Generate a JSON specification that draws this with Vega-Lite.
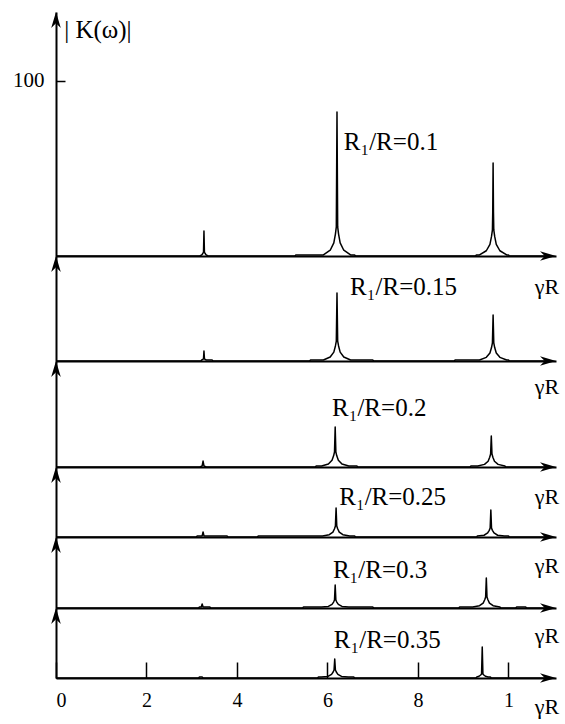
{
  "$schema": "https://vega.github.io/schema/vega-lite/v6.json",
  "background": "white",
  "padding": {"left": 12, "top": 12, "right": 0, "bottom": 0},
  "bounds": "flush",
  "spacing": 0,
  "config": {
    "view": {"stroke": null},
    "axis": {"domainColor": "black", "domainWidth": 2, "grid": false, "labelFont": "Liberation Serif", "labelFontSize": 20, "labelColor": "black", "tickColor": "black"}
  },
  "datasets": {
    "spectra": [
      {"r":0.1,"x":0,"k":0},{"r":0.1,"x":3.18,"k":0},{"r":0.1,"x":3.22,"k":0.6},{"r":0.1,"x":3.245,"k":1.4},{"r":0.1,"x":3.26,"k":2.3},{"r":0.1,"x":3.27,"k":14.3},{"r":0.1,"x":3.28,"k":2.3},{"r":0.1,"x":3.295,"k":1.4},{"r":0.1,"x":3.32,"k":0.6},{"r":0.1,"x":3.36,"k":0},
      {"r":0.1,"x":5.28,"k":0},{"r":0.1,"x":5.3,"k":0.6},{"r":0.1,"x":5.91,"k":0.6},{"r":0.1,"x":6.06,"k":3.3},{"r":0.1,"x":6.14,"k":7.5},{"r":0.1,"x":6.175,"k":12.5},{"r":0.1,"x":6.195,"k":16.6},{"r":0.1,"x":6.21,"k":82.3},{"r":0.1,"x":6.225,"k":16.6},{"r":0.1,"x":6.245,"k":12.5},{"r":0.1,"x":6.28,"k":7.5},{"r":0.1,"x":6.36,"k":3.3},{"r":0.1,"x":6.51,"k":0.6},{"r":0.1,"x":6.6,"k":0.6},{"r":0.1,"x":6.62,"k":0},
      {"r":0.1,"x":9.27,"k":0},{"r":0.1,"x":9.29,"k":0.6},{"r":0.1,"x":9.36,"k":0.6},{"r":0.1,"x":9.51,"k":3.0},{"r":0.1,"x":9.59,"k":6.7},{"r":0.1,"x":9.625,"k":11.2},{"r":0.1,"x":9.645,"k":14.9},{"r":0.1,"x":9.652,"k":25.1},{"r":0.1,"x":9.66,"k":53.1},{"r":0.1,"x":9.668,"k":25.1},{"r":0.1,"x":9.675,"k":14.9},{"r":0.1,"x":9.695,"k":11.2},{"r":0.1,"x":9.73,"k":6.7},{"r":0.1,"x":9.81,"k":3.0},{"r":0.1,"x":9.96,"k":0.6},{"r":0.1,"x":10.0,"k":0.6},{"r":0.1,"x":10.02,"k":0},{"r":0.1,"x":10.9,"k":0},

      {"r":0.15,"x":0,"k":0},{"r":0.15,"x":3.2,"k":0},{"r":0.15,"x":3.22,"k":0.6},{"r":0.15,"x":3.245,"k":0.9},{"r":0.15,"x":3.26,"k":1.4},{"r":0.15,"x":3.27,"k":5.7},{"r":0.15,"x":3.28,"k":1.4},{"r":0.15,"x":3.295,"k":0.9},{"r":0.15,"x":3.32,"k":0.6},{"r":0.15,"x":3.45,"k":0.6},{"r":0.15,"x":3.47,"k":0},
      {"r":0.15,"x":5.6,"k":0},{"r":0.15,"x":5.63,"k":0.6},{"r":0.15,"x":5.91,"k":0.6},{"r":0.15,"x":6.06,"k":2.3},{"r":0.15,"x":6.14,"k":5.1},{"r":0.15,"x":6.175,"k":8.6},{"r":0.15,"x":6.195,"k":11.4},{"r":0.15,"x":6.21,"k":38.9},{"r":0.15,"x":6.225,"k":11.4},{"r":0.15,"x":6.245,"k":8.6},{"r":0.15,"x":6.28,"k":5.1},{"r":0.15,"x":6.36,"k":2.3},{"r":0.15,"x":6.51,"k":0.6},{"r":0.15,"x":7.0,"k":0.6},{"r":0.15,"x":7.02,"k":0},
      {"r":0.15,"x":8.8,"k":0},{"r":0.15,"x":8.82,"k":0.6},{"r":0.15,"x":9.36,"k":0.6},{"r":0.15,"x":9.51,"k":2.1},{"r":0.15,"x":9.59,"k":4.6},{"r":0.15,"x":9.625,"k":7.7},{"r":0.15,"x":9.645,"k":10.3},{"r":0.15,"x":9.66,"k":26.3},{"r":0.15,"x":9.675,"k":10.3},{"r":0.15,"x":9.695,"k":7.7},{"r":0.15,"x":9.73,"k":4.6},{"r":0.15,"x":9.81,"k":2.1},{"r":0.15,"x":9.96,"k":0.6},{"r":0.15,"x":10.0,"k":0.6},{"r":0.15,"x":10.02,"k":0},{"r":0.15,"x":10.9,"k":0},

      {"r":0.2,"x":0,"k":0},{"r":0.2,"x":3.18,"k":0},{"r":0.2,"x":3.23,"k":0.6},{"r":0.2,"x":3.25,"k":3.4},{"r":0.2,"x":3.27,"k":0.6},{"r":0.2,"x":3.32,"k":0},
      {"r":0.2,"x":5.73,"k":0},{"r":0.2,"x":5.75,"k":0.6},{"r":0.2,"x":5.87,"k":0.6},{"r":0.2,"x":6.02,"k":1.7},{"r":0.2,"x":6.1,"k":3.9},{"r":0.2,"x":6.135,"k":6.4},{"r":0.2,"x":6.155,"k":8.6},{"r":0.2,"x":6.17,"k":22.9},{"r":0.2,"x":6.185,"k":8.6},{"r":0.2,"x":6.205,"k":6.4},{"r":0.2,"x":6.24,"k":3.9},{"r":0.2,"x":6.32,"k":1.7},{"r":0.2,"x":6.47,"k":0.6},{"r":0.2,"x":6.65,"k":0.6},{"r":0.2,"x":6.67,"k":0},
      {"r":0.2,"x":9.15,"k":0},{"r":0.2,"x":9.17,"k":0.6},{"r":0.2,"x":9.32,"k":0.6},{"r":0.2,"x":9.47,"k":1.5},{"r":0.2,"x":9.55,"k":3.3},{"r":0.2,"x":9.585,"k":5.6},{"r":0.2,"x":9.605,"k":7.4},{"r":0.2,"x":9.62,"k":17.7},{"r":0.2,"x":9.635,"k":7.4},{"r":0.2,"x":9.655,"k":5.6},{"r":0.2,"x":9.69,"k":3.3},{"r":0.2,"x":9.77,"k":1.5},{"r":0.2,"x":9.92,"k":0.6},{"r":0.2,"x":9.94,"k":0},{"r":0.2,"x":10.9,"k":0},

      {"r":0.25,"x":0,"k":0},{"r":0.25,"x":3.1,"k":0},{"r":0.25,"x":3.12,"k":0.6},{"r":0.25,"x":3.23,"k":0.6},{"r":0.25,"x":3.25,"k":2.9},{"r":0.25,"x":3.27,"k":0.6},{"r":0.25,"x":3.78,"k":0.6},{"r":0.25,"x":3.8,"k":0},
      {"r":0.25,"x":4.45,"k":0},{"r":0.25,"x":4.47,"k":0.6},{"r":0.25,"x":5.89,"k":0.6},{"r":0.25,"x":6.04,"k":1.3},{"r":0.25,"x":6.12,"k":2.8},{"r":0.25,"x":6.155,"k":4.7},{"r":0.25,"x":6.175,"k":6.3},{"r":0.25,"x":6.19,"k":16.6},{"r":0.25,"x":6.205,"k":6.3},{"r":0.25,"x":6.225,"k":4.7},{"r":0.25,"x":6.26,"k":2.8},{"r":0.25,"x":6.34,"k":1.3},{"r":0.25,"x":6.49,"k":0.6},{"r":0.25,"x":6.6,"k":0.6},{"r":0.25,"x":6.62,"k":0},
      {"r":0.25,"x":9.3,"k":0},{"r":0.25,"x":9.31,"k":0.6},{"r":0.25,"x":9.46,"k":1.0},{"r":0.25,"x":9.54,"k":2.3},{"r":0.25,"x":9.575,"k":3.8},{"r":0.25,"x":9.595,"k":5.1},{"r":0.25,"x":9.61,"k":15.4},{"r":0.25,"x":9.625,"k":5.1},{"r":0.25,"x":9.645,"k":3.8},{"r":0.25,"x":9.68,"k":2.3},{"r":0.25,"x":9.76,"k":1.0},{"r":0.25,"x":9.91,"k":0.6},{"r":0.25,"x":10.0,"k":0.6},{"r":0.25,"x":10.02,"k":0},{"r":0.25,"x":10.9,"k":0},

      {"r":0.3,"x":0,"k":0},{"r":0.3,"x":3.15,"k":0},{"r":0.3,"x":3.17,"k":0.6},{"r":0.3,"x":3.21,"k":0.6},{"r":0.3,"x":3.23,"k":2.3},{"r":0.3,"x":3.25,"k":0.6},{"r":0.3,"x":3.4,"k":0.6},{"r":0.3,"x":3.42,"k":0},
      {"r":0.3,"x":5.45,"k":0},{"r":0.3,"x":5.47,"k":0.6},{"r":0.3,"x":5.87,"k":0.6},{"r":0.3,"x":6.02,"k":0.9},{"r":0.3,"x":6.1,"k":2.1},{"r":0.3,"x":6.135,"k":3.4},{"r":0.3,"x":6.155,"k":4.6},{"r":0.3,"x":6.17,"k":13.1},{"r":0.3,"x":6.185,"k":4.6},{"r":0.3,"x":6.205,"k":3.4},{"r":0.3,"x":6.24,"k":2.1},{"r":0.3,"x":6.32,"k":0.9},{"r":0.3,"x":6.47,"k":0.6},{"r":0.3,"x":7.0,"k":0.6},{"r":0.3,"x":7.02,"k":0},
      {"r":0.3,"x":8.9,"k":0},{"r":0.3,"x":8.92,"k":0.6},{"r":0.3,"x":9.21,"k":0.6},{"r":0.3,"x":9.36,"k":1.3},{"r":0.3,"x":9.44,"k":2.8},{"r":0.3,"x":9.475,"k":4.7},{"r":0.3,"x":9.495,"k":6.3},{"r":0.3,"x":9.51,"k":17.1},{"r":0.3,"x":9.525,"k":6.3},{"r":0.3,"x":9.545,"k":4.7},{"r":0.3,"x":9.58,"k":2.8},{"r":0.3,"x":9.66,"k":1.3},{"r":0.3,"x":9.81,"k":0.6},{"r":0.3,"x":9.83,"k":0},
      {"r":0.3,"x":10.16,"k":0},{"r":0.3,"x":10.18,"k":0.6},{"r":0.3,"x":10.38,"k":0.6},{"r":0.3,"x":10.4,"k":0},{"r":0.3,"x":10.9,"k":0},

      {"r":0.35,"x":0,"k":0},{"r":0.35,"x":3.15,"k":0},{"r":0.35,"x":3.17,"k":0.6},{"r":0.35,"x":3.23,"k":0.6},{"r":0.35,"x":3.25,"k":0},
      {"r":0.35,"x":5.78,"k":0},{"r":0.35,"x":5.8,"k":0.6},{"r":0.35,"x":5.86,"k":0.6},{"r":0.35,"x":6.01,"k":0.9},{"r":0.35,"x":6.09,"k":2.1},{"r":0.35,"x":6.125,"k":3.4},{"r":0.35,"x":6.145,"k":4.6},{"r":0.35,"x":6.16,"k":10.9},{"r":0.35,"x":6.175,"k":4.6},{"r":0.35,"x":6.195,"k":3.4},{"r":0.35,"x":6.23,"k":2.1},{"r":0.35,"x":6.31,"k":0.9},{"r":0.35,"x":6.46,"k":0.6},{"r":0.35,"x":6.58,"k":0.6},{"r":0.35,"x":6.6,"k":0},
      {"r":0.35,"x":9.28,"k":0},{"r":0.35,"x":9.3,"k":0.6},{"r":0.35,"x":9.35,"k":1.0},{"r":0.35,"x":9.385,"k":1.7},{"r":0.35,"x":9.405,"k":2.3},{"r":0.35,"x":9.42,"k":17.7},{"r":0.35,"x":9.435,"k":2.3},{"r":0.35,"x":9.455,"k":1.7},{"r":0.35,"x":9.49,"k":1.0},{"r":0.35,"x":9.55,"k":0.6},{"r":0.35,"x":9.6,"k":0.6},{"r":0.35,"x":9.62,"k":0},{"r":0.35,"x":10.9,"k":0}
    ],
    "labels": [
      {"r":0.1,"kind":"ratio","x":6.36,"k":65.1,"text":"R₁/R=0.1"},
      {"r":0.1,"kind":"ylabel","x":0.18,"k":129.1,"text":"| K(ω)|"},
      {"r":0.1,"kind":"axis","x":11.12,"k":-17.7,"text":"γR"},
      {"r":0.15,"kind":"ratio","x":6.5,"k":42.3,"text":"R₁/R=0.15"},
      {"r":0.15,"kind":"axis","x":11.12,"k":-14.9,"text":"γR"},
      {"r":0.2,"kind":"ratio","x":6.1,"k":33.7,"text":"R₁/R=0.2"},
      {"r":0.2,"kind":"axis","x":11.12,"k":-17.1,"text":"γR"},
      {"r":0.25,"kind":"ratio","x":6.26,"k":22.9,"text":"R₁/R=0.25"},
      {"r":0.25,"kind":"axis","x":11.12,"k":-16.6,"text":"γR"},
      {"r":0.3,"kind":"ratio","x":6.12,"k":21.7,"text":"R₁/R=0.3"},
      {"r":0.3,"kind":"axis","x":11.12,"k":-16.0,"text":"γR"},
      {"r":0.35,"kind":"ratio","x":6.14,"k":21.7,"text":"R₁/R=0.35"},
      {"r":0.35,"kind":"axis","x":11.12,"k":-16.6,"text":"γR"}
    ],
    "arrows": [
      {"r":0.1,"top":139.4,"end":11.05,"base":0,"origin":0},
      {"r":0.15,"top":60,"end":11.05,"base":0,"origin":0},
      {"r":0.2,"top":60.6,"end":11.05,"base":0,"origin":0},
      {"r":0.25,"top":40,"end":11.05,"base":0,"origin":0},
      {"r":0.3,"top":40.6,"end":11.05,"base":0,"origin":0},
      {"r":0.35,"top":40,"end":11.05,"base":0,"origin":0}
    ]
  },
  "vconcat": [
    {
      "width": 500, "height": 244,
      "encoding": {
        "x": {"field": "x", "type": "quantitative", "scale": {"domain": [0, 11.05], "nice": false, "zero": false}, "axis": {"labels": false, "ticks": false, "title": null}},
        "y": {"field": "k", "type": "quantitative", "scale": {"domain": [0, 139.4], "nice": false, "zero": false}, "axis": {"values": [100], "tickSize": -9, "tickWidth": 1.5, "labelPadding": 21, "labelFontSize": 21, "title": null}}
      },
      "layer": [
        {"data": {"name": "spectra"}, "transform": [{"filter": "datum.r == 0.1"}], "mark": {"type": "line", "color": "black", "strokeWidth": 1.5, "strokeJoin": "round"}, "encoding": {}},
        {"data": {"name": "labels"}, "transform": [{"filter": "datum.r == 0.1 && datum.kind != 'axis'"}], "mark": {"type": "text", "align": "left", "baseline": "middle", "font": "Liberation Serif", "fontSize": 25, "color": "black"}, "encoding": {"text": {"field": "text"}}},
        {"data": {"name": "labels"}, "transform": [{"filter": "datum.r == 0.1 && datum.kind == 'axis'"}], "mark": {"type": "text", "align": "right", "baseline": "middle", "font": "Liberation Serif", "fontSize": 22, "color": "black"}, "encoding": {"text": {"field": "text"}}},
        {"data": {"name": "arrows"}, "transform": [{"filter": "datum.r == 0.1"}], "mark": {"type": "point", "filled": true, "color": "black", "opacity": 1, "size": 256}, "encoding": {"x": {"field": "origin", "type": "quantitative"}, "y": {"field": "top", "type": "quantitative"}, "shape": {"value": "M0,0 L0.6,2 L0,1.4 L-0.6,2 Z"}}},
        {"data": {"name": "arrows"}, "transform": [{"filter": "datum.r == 0.1"}], "mark": {"type": "point", "filled": true, "color": "black", "opacity": 1, "size": 256}, "encoding": {"x": {"field": "end", "type": "quantitative"}, "y": {"field": "base", "type": "quantitative"}, "shape": {"value": "M0,0 L-2,0.6 L-1.4,0 L-2,-0.6 Z"}}}
      ]
    },
    {
      "width": 500, "height": 105,
      "encoding": {
        "x": {"field": "x", "type": "quantitative", "scale": {"domain": [0, 11.05], "nice": false, "zero": false}, "axis": {"labels": false, "ticks": false, "title": null}},
        "y": {"field": "k", "type": "quantitative", "scale": {"domain": [0, 60], "nice": false, "zero": false}, "axis": {"labels": false, "ticks": false, "title": null}}
      },
      "layer": [
        {"data": {"name": "spectra"}, "transform": [{"filter": "datum.r == 0.15"}], "mark": {"type": "line", "color": "black", "strokeWidth": 1.5, "strokeJoin": "round"}, "encoding": {}},
        {"data": {"name": "labels"}, "transform": [{"filter": "datum.r == 0.15 && datum.kind != 'axis'"}], "mark": {"type": "text", "align": "left", "baseline": "middle", "font": "Liberation Serif", "fontSize": 25, "color": "black"}, "encoding": {"text": {"field": "text"}}},
        {"data": {"name": "labels"}, "transform": [{"filter": "datum.r == 0.15 && datum.kind == 'axis'"}], "mark": {"type": "text", "align": "right", "baseline": "middle", "font": "Liberation Serif", "fontSize": 22, "color": "black"}, "encoding": {"text": {"field": "text"}}},
        {"data": {"name": "arrows"}, "transform": [{"filter": "datum.r == 0.15"}], "mark": {"type": "point", "filled": true, "color": "black", "opacity": 1, "size": 256}, "encoding": {"x": {"field": "origin", "type": "quantitative"}, "y": {"field": "top", "type": "quantitative"}, "shape": {"value": "M0,0 L0.6,2 L0,1.4 L-0.6,2 Z"}}},
        {"data": {"name": "arrows"}, "transform": [{"filter": "datum.r == 0.15"}], "mark": {"type": "point", "filled": true, "color": "black", "opacity": 1, "size": 256}, "encoding": {"x": {"field": "end", "type": "quantitative"}, "y": {"field": "base", "type": "quantitative"}, "shape": {"value": "M0,0 L-2,0.6 L-1.4,0 L-2,-0.6 Z"}}}
      ]
    },
    {
      "width": 500, "height": 106,
      "encoding": {
        "x": {"field": "x", "type": "quantitative", "scale": {"domain": [0, 11.05], "nice": false, "zero": false}, "axis": {"labels": false, "ticks": false, "title": null}},
        "y": {"field": "k", "type": "quantitative", "scale": {"domain": [0, 60.6], "nice": false, "zero": false}, "axis": {"labels": false, "ticks": false, "title": null}}
      },
      "layer": [
        {"data": {"name": "spectra"}, "transform": [{"filter": "datum.r == 0.2"}], "mark": {"type": "line", "color": "black", "strokeWidth": 1.5, "strokeJoin": "round"}, "encoding": {}},
        {"data": {"name": "labels"}, "transform": [{"filter": "datum.r == 0.2 && datum.kind != 'axis'"}], "mark": {"type": "text", "align": "left", "baseline": "middle", "font": "Liberation Serif", "fontSize": 25, "color": "black"}, "encoding": {"text": {"field": "text"}}},
        {"data": {"name": "labels"}, "transform": [{"filter": "datum.r == 0.2 && datum.kind == 'axis'"}], "mark": {"type": "text", "align": "right", "baseline": "middle", "font": "Liberation Serif", "fontSize": 22, "color": "black"}, "encoding": {"text": {"field": "text"}}},
        {"data": {"name": "arrows"}, "transform": [{"filter": "datum.r == 0.2"}], "mark": {"type": "point", "filled": true, "color": "black", "opacity": 1, "size": 256}, "encoding": {"x": {"field": "origin", "type": "quantitative"}, "y": {"field": "top", "type": "quantitative"}, "shape": {"value": "M0,0 L0.6,2 L0,1.4 L-0.6,2 Z"}}},
        {"data": {"name": "arrows"}, "transform": [{"filter": "datum.r == 0.2"}], "mark": {"type": "point", "filled": true, "color": "black", "opacity": 1, "size": 256}, "encoding": {"x": {"field": "end", "type": "quantitative"}, "y": {"field": "base", "type": "quantitative"}, "shape": {"value": "M0,0 L-2,0.6 L-1.4,0 L-2,-0.6 Z"}}}
      ]
    },
    {
      "width": 500, "height": 70,
      "encoding": {
        "x": {"field": "x", "type": "quantitative", "scale": {"domain": [0, 11.05], "nice": false, "zero": false}, "axis": {"labels": false, "ticks": false, "title": null}},
        "y": {"field": "k", "type": "quantitative", "scale": {"domain": [0, 40], "nice": false, "zero": false}, "axis": {"labels": false, "ticks": false, "title": null}}
      },
      "layer": [
        {"data": {"name": "spectra"}, "transform": [{"filter": "datum.r == 0.25"}], "mark": {"type": "line", "color": "black", "strokeWidth": 1.5, "strokeJoin": "round"}, "encoding": {}},
        {"data": {"name": "labels"}, "transform": [{"filter": "datum.r == 0.25 && datum.kind != 'axis'"}], "mark": {"type": "text", "align": "left", "baseline": "middle", "font": "Liberation Serif", "fontSize": 25, "color": "black"}, "encoding": {"text": {"field": "text"}}},
        {"data": {"name": "labels"}, "transform": [{"filter": "datum.r == 0.25 && datum.kind == 'axis'"}], "mark": {"type": "text", "align": "right", "baseline": "middle", "font": "Liberation Serif", "fontSize": 22, "color": "black"}, "encoding": {"text": {"field": "text"}}},
        {"data": {"name": "arrows"}, "transform": [{"filter": "datum.r == 0.25"}], "mark": {"type": "point", "filled": true, "color": "black", "opacity": 1, "size": 256}, "encoding": {"x": {"field": "origin", "type": "quantitative"}, "y": {"field": "top", "type": "quantitative"}, "shape": {"value": "M0,0 L0.6,2 L0,1.4 L-0.6,2 Z"}}},
        {"data": {"name": "arrows"}, "transform": [{"filter": "datum.r == 0.25"}], "mark": {"type": "point", "filled": true, "color": "black", "opacity": 1, "size": 256}, "encoding": {"x": {"field": "end", "type": "quantitative"}, "y": {"field": "base", "type": "quantitative"}, "shape": {"value": "M0,0 L-2,0.6 L-1.4,0 L-2,-0.6 Z"}}}
      ]
    },
    {
      "width": 500, "height": 71,
      "encoding": {
        "x": {"field": "x", "type": "quantitative", "scale": {"domain": [0, 11.05], "nice": false, "zero": false}, "axis": {"labels": false, "ticks": false, "title": null}},
        "y": {"field": "k", "type": "quantitative", "scale": {"domain": [0, 40.6], "nice": false, "zero": false}, "axis": {"labels": false, "ticks": false, "title": null}}
      },
      "layer": [
        {"data": {"name": "spectra"}, "transform": [{"filter": "datum.r == 0.3"}], "mark": {"type": "line", "color": "black", "strokeWidth": 1.5, "strokeJoin": "round"}, "encoding": {}},
        {"data": {"name": "labels"}, "transform": [{"filter": "datum.r == 0.3 && datum.kind != 'axis'"}], "mark": {"type": "text", "align": "left", "baseline": "middle", "font": "Liberation Serif", "fontSize": 25, "color": "black"}, "encoding": {"text": {"field": "text"}}},
        {"data": {"name": "labels"}, "transform": [{"filter": "datum.r == 0.3 && datum.kind == 'axis'"}], "mark": {"type": "text", "align": "right", "baseline": "middle", "font": "Liberation Serif", "fontSize": 22, "color": "black"}, "encoding": {"text": {"field": "text"}}},
        {"data": {"name": "arrows"}, "transform": [{"filter": "datum.r == 0.3"}], "mark": {"type": "point", "filled": true, "color": "black", "opacity": 1, "size": 256}, "encoding": {"x": {"field": "origin", "type": "quantitative"}, "y": {"field": "top", "type": "quantitative"}, "shape": {"value": "M0,0 L0.6,2 L0,1.4 L-0.6,2 Z"}}},
        {"data": {"name": "arrows"}, "transform": [{"filter": "datum.r == 0.3"}], "mark": {"type": "point", "filled": true, "color": "black", "opacity": 1, "size": 256}, "encoding": {"x": {"field": "end", "type": "quantitative"}, "y": {"field": "base", "type": "quantitative"}, "shape": {"value": "M0,0 L-2,0.6 L-1.4,0 L-2,-0.6 Z"}}}
      ]
    },
    {
      "width": 500, "height": 70,
      "encoding": {
        "x": {"field": "x", "type": "quantitative", "scale": {"domain": [0, 11.05], "nice": false, "zero": false}, "axis": {"values": [0, 2, 4, 6, 8, 10], "labelExpr": "datum.value == 10 ? '1' : datum.label", "tickSize": -16, "tickWidth": 1.5, "labelPadding": 38, "labelBaseline": "middle", "labelFontSize": 20, "title": null}},
        "y": {"field": "k", "type": "quantitative", "scale": {"domain": [0, 40], "nice": false, "zero": false}, "axis": {"labels": false, "ticks": false, "title": null}}
      },
      "layer": [
        {"data": {"name": "spectra"}, "transform": [{"filter": "datum.r == 0.35"}], "mark": {"type": "line", "color": "black", "strokeWidth": 1.5, "strokeJoin": "round"}, "encoding": {}},
        {"data": {"name": "labels"}, "transform": [{"filter": "datum.r == 0.35 && datum.kind != 'axis'"}], "mark": {"type": "text", "align": "left", "baseline": "middle", "font": "Liberation Serif", "fontSize": 25, "color": "black"}, "encoding": {"text": {"field": "text"}}},
        {"data": {"name": "labels"}, "transform": [{"filter": "datum.r == 0.35 && datum.kind == 'axis'"}], "mark": {"type": "text", "align": "right", "baseline": "middle", "font": "Liberation Serif", "fontSize": 22, "color": "black"}, "encoding": {"text": {"field": "text"}}},
        {"data": {"name": "arrows"}, "transform": [{"filter": "datum.r == 0.35"}], "mark": {"type": "point", "filled": true, "color": "black", "opacity": 1, "size": 256}, "encoding": {"x": {"field": "origin", "type": "quantitative"}, "y": {"field": "top", "type": "quantitative"}, "shape": {"value": "M0,0 L0.6,2 L0,1.4 L-0.6,2 Z"}}},
        {"data": {"name": "arrows"}, "transform": [{"filter": "datum.r == 0.35"}], "mark": {"type": "point", "filled": true, "color": "black", "opacity": 1, "size": 256}, "encoding": {"x": {"field": "end", "type": "quantitative"}, "y": {"field": "base", "type": "quantitative"}, "shape": {"value": "M0,0 L-2,0.6 L-1.4,0 L-2,-0.6 Z"}}}
      ]
    }
  ]
}
